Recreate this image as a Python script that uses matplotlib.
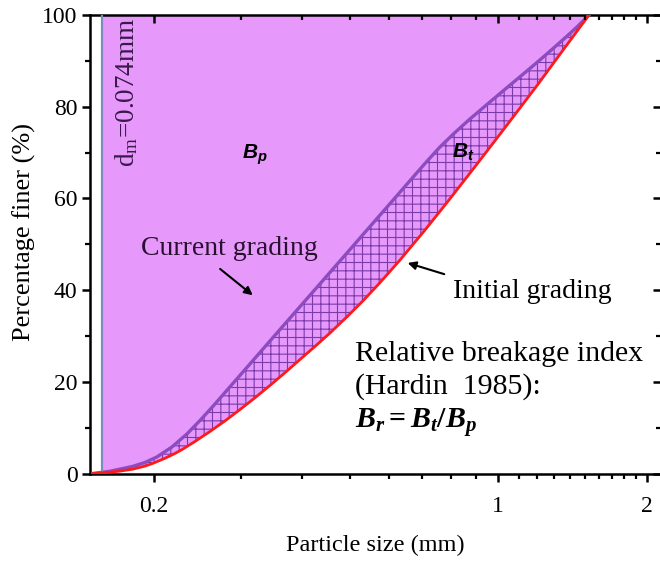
import numpy as np
import matplotlib
matplotlib.use('Agg')
import matplotlib.pyplot as plt
from matplotlib.ticker import FixedLocator, NullFormatter

# grading curves (particle size in mm, % finer)
initial_size = [0.1503, 0.1590, 0.1706, 0.1813, 0.1917, 0.1990, 0.2105, 0.2205,
                0.2290, 0.2422, 0.2598, 0.2787, 0.2989, 0.3206, 0.3438, 0.3689,
                0.3957, 0.4244, 0.4553, 0.4929, 0.5313, 0.5752, 0.6316, 0.7099,
                0.7905, 0.8968, 1.0222, 1.1068, 1.1983, 1.3531, 1.5283]
initial_pct = [0.0, 0.20, 0.52, 0.96, 1.61, 2.22, 3.32, 4.36,
               5.34, 6.98, 9.16, 11.47, 13.94, 16.51, 19.19, 21.98,
               24.86, 27.70, 30.64, 34.17, 37.66, 41.62, 46.55, 53.10,
               59.37, 66.91, 74.85, 79.72, 84.60, 92.32, 100.0]

current_size = [0.1503, 0.1628, 0.1813, 0.1917, 0.2027, 0.2175, 0.2333, 0.2479,
                0.2635, 0.2893, 0.3132, 0.3391, 0.3654, 0.3957, 0.4284, 0.4617,
                0.5000, 0.5489, 0.6027, 0.6556, 0.7099, 0.7613, 0.8168, 0.8760,
                0.9486, 1.0222, 1.1068, 1.1983, 1.2853, 1.3656, 1.4446, 1.5283]
current_pct = [0.0, 0.48, 1.57, 2.40, 3.60, 5.78, 8.62, 11.54,
               14.66, 19.65, 23.88, 28.14, 32.13, 36.38, 40.61, 44.60,
               48.85, 53.85, 58.84, 63.36, 67.61, 71.21, 74.37, 77.32,
               80.48, 83.42, 86.52, 89.64, 92.48, 94.98, 97.38, 100.0]

d_m = 0.1567  # where the d_m line sits on the plotted axis

xticks = [0.2, 1, 2]
xtick_labels = ['0.2', '1', '2']
xminor = [0.3, 0.4, 0.5, 0.6, 0.7, 0.8, 0.9, 1.1, 1.2, 1.3, 1.4, 1.5, 1.6, 1.7, 1.8, 1.9]
yticks = [0, 20, 40, 60, 80, 100]
yminor = [10, 30, 50, 70, 90]

plt.rcParams['font.family'] = 'Liberation Serif'
plt.rcParams['mathtext.fontset'] = 'custom'
plt.rcParams['mathtext.rm'] = 'Liberation Serif'
plt.rcParams['mathtext.it'] = 'Liberation Serif:italic:bold'
plt.rcParams['mathtext.bf'] = 'Liberation Serif:bold'
plt.rcParams['mathtext.sf'] = 'Liberation Sans:italic:bold'
plt.rcParams['hatch.linewidth'] = 0.8

fill_col = '#e699fb'
cur_col = '#8c4cc0'
hatch_col = '#7a3aaa'
ini_col = '#ff1a1a'

cx = np.array(current_size)
cy = np.array(current_pct)
ix = np.array(initial_size)
iy = np.array(initial_pct)

fig = plt.figure(figsize=(6.6, 5.62), dpi=100)
ax = fig.add_axes([90 / 660, 88.5 / 562, 571 / 660, 458.5 / 562])
ax.set_xscale('log')
ax.set_xlim(0.1483, 2.14)
ax.set_ylim(0, 100)

# B_p area: between d_m and current grading
ax.fill_betweenx(cy, d_m, cx, where=cx >= d_m, interpolate=True,
                 facecolor=fill_col, linewidth=0, zorder=1)
# B_t area: between current and initial grading, hatched
ax.fill(np.r_[cx, ix[::-1]], np.r_[cy, iy[::-1]], facecolor=fill_col,
        edgecolor=hatch_col, hatch='++', linewidth=0, zorder=2)

ax.plot(cx, cy, color=cur_col, lw=2.4, solid_joinstyle='round', zorder=3)
ax.plot(ix, iy, color=ini_col, lw=2.0, solid_joinstyle='round', zorder=4)
ax.plot([d_m, d_m], [0, 100], color='#7a8fb8', lw=1.6, zorder=3)

ax.text(0.1762, 83.2, 'd$_\\mathrm{m}$=0.074mm', rotation=90, ha='center',
        va='center', fontsize=19.5, color='#3a1a4a', zorder=5)
ax.text(0.3206, 69.5, '$\\mathsf{B_p}$', fontsize=15, ha='center', va='center', zorder=5)
ax.text(0.848, 70.1, '$\\mathsf{B_t}$', fontsize=15, ha='center', va='center', zorder=5)
ax.text(0.2839, 49.0, 'Current grading', fontsize=20, ha='center', va='center',
        color='#2a1030', zorder=5)
ax.text(1.171, 39.8, 'Initial grading', fontsize=20, ha='center', va='center', zorder=5)
ax.text(0.5112, 26.1, 'Relative breakage index', fontsize=21.5, ha='left', va='center', zorder=5)
ax.text(0.5112, 18.9, '(Hardin  1985):', fontsize=21.5, ha='left', va='center', zorder=5)
ax.text(0.5112, 11.2, '$B_r\\mathbf{=}B_t\\mathbf{/}B_p$', fontsize=21.5, ha='left',
        va='center', zorder=5)

arrow = dict(arrowstyle='-|>', color='black', lw=1.5, mutation_scale=12)
ax.annotate('', xy=(0.3206, 38.5), xytext=(0.2697, 45.0), arrowprops=arrow, zorder=6)
ax.annotate('', xy=(0.6467, 46.1), xytext=(0.7866, 43.3), arrowprops=arrow, zorder=6)

ax.xaxis.set_major_locator(FixedLocator(xticks))
ax.set_xticklabels(xtick_labels)
ax.xaxis.set_minor_locator(FixedLocator(xminor))
ax.xaxis.set_minor_formatter(NullFormatter())
ax.yaxis.set_major_locator(FixedLocator(yticks))
ax.yaxis.set_minor_locator(FixedLocator(yminor))

ax.tick_params(which='major', direction='out', length=6, width=1.8, labelsize=17, pad=3)
ax.tick_params(which='minor', direction='out', length=3.5, width=1.6)
ax.tick_params(axis='x', which='major', pad=10)
for s in ax.spines.values():
    s.set_linewidth(1.8)

ax.set_xlabel('Particle size (mm)', fontsize=17.5, labelpad=13)
ax.set_ylabel('Percentage finer (%)', fontsize=19)
ax.yaxis.set_label_coords(-0.094, 0.527)

# top and right ticks point inwards
ax2 = fig.add_axes(ax.get_position(), sharex=ax, sharey=ax, facecolor='none')
ax2.tick_params(which='both', direction='in', top=True, right=True, bottom=False,
                left=False, labelbottom=False, labelleft=False)
ax2.tick_params(which='major', length=6, width=1.8)
ax2.tick_params(which='minor', length=3.5, width=1.6)
for s in ax2.spines.values():
    s.set_visible(False)

fig.savefig('out.png', dpi=100)
